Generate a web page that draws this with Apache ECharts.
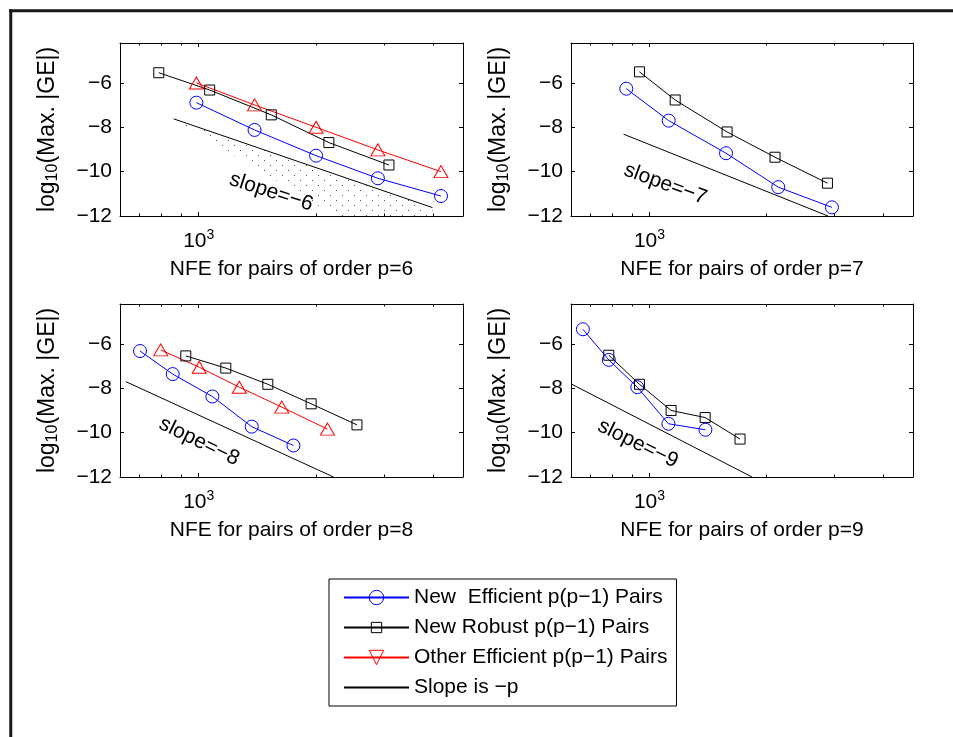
<!DOCTYPE html>
<html>
<head>
<meta charset="utf-8">
<script src="https://cdn.jsdelivr.net/npm/echarts@6/dist/echarts.min.js"></script>
<style>
html,body{margin:0;padding:0;background:#fff;}
#c{width:953px;height:737px;}
</style>
</head>
<body>
<div id="c"></div>
<script>
// ---------------- data ----------------
const NAME_EFF = 'New  Efficient p(p\u22121) Pairs';
const NAME_ROB = 'New Robust p(p\u22121) Pairs';
const NAME_OTH = 'Other Efficient p(p\u22121) Pairs';
const NAME_SLOPE = 'Slope is \u2212p';

const orders = [6, 7, 8, 9];
const xTitles = ['NFE for pairs of order p=6', 'NFE for pairs of order p=7', 'NFE for pairs of order p=8', 'NFE for pairs of order p=9'];
const yTicks = [-12, -10, -8, -6];
const xMajorTicks = [1000];
const xMinorTicks = [700, 800, 900, 2000, 3000, 4000];

// p = 6
const nfe6Eff = [986, 1392, 2005, 2892, 4204];
const err6Eff = [-6.89, -8.12, -9.28, -10.30, -11.10];
const nfe6Rob = [789, 1067, 1537, 2163, 3088];
const err6Rob = [-5.54, -6.32, -7.44, -8.69, -9.70];
const nfe6Oth = [986, 1392, 2005, 2892, 4204];
const err6Oth = [-6.00, -6.99, -8.00, -9.02, -10.00];
const nfe6Slope = [862, 3996];
const err6Slope = [-7.62, -11.62];
const nfe6Hatch = [862, 3996, 3996, 2250];
const err6Hatch = [-7.62, -11.62, -12, -12];

// p = 7
const nfe7Eff = [871, 1121, 1576, 2150, 2958];
const err7Eff = [-6.26, -7.70, -9.17, -10.70, -11.61];
const nfe7Rob = [942, 1165, 1586, 2109, 2880];
const err7Rob = [-5.50, -6.77, -8.21, -9.35, -10.52];
const nfe7Slope = [857, 2890];
const err7Slope = [-8.31, -12];

// p = 8
const nfe8Eff = [706, 857, 1084, 1369, 1753];
const err8Eff = [-6.32, -7.36, -8.37, -9.73, -10.58];
const nfe8Rob = [926, 1174, 1506, 1947, 2555];
const err8Rob = [-6.54, -7.09, -7.82, -8.70, -9.65];
const nfe8Oth = [798, 1003, 1272, 1636, 2145];
const err8Oth = [-6.27, -7.05, -7.95, -8.85, -9.84];
const nfe8Slope = [649, 2223];
const err8Slope = [-7.70, -12];

// p = 9
const nfe9Eff = [673, 785, 930, 1119, 1394];
const err9Eff = [-5.34, -6.72, -7.95, -9.60, -9.87];
const nfe9Rob = [785, 942, 1137, 1392, 1713];
const err9Rob = [-6.51, -7.82, -9.00, -9.32, -10.29];
const nfe9Slope = [627, 1840];
const err9Slope = [-7.80, -12];

// slope annotations
const slopeLabels = ['slope=\u22126', 'slope=\u22127', 'slope=\u22128', 'slope=\u22129'];
const slopeLabelNfe = [1537, 1098, 1002, 933];
const slopeLabelErr = [-10.92, -10.56, -10.40, -10.50];

// ---------------- styles / layout ----------------
const FONT = "'Liberation Sans', Arial, Helvetica, sans-serif";
const FS = 21;
const FS_YTITLE = 23;
const X_MIN = 627, X_MAX = 4790;
const Y_MIN = -12, Y_MAX = -4.2;
const gridsLayout = [
  {left: 120, top: 43, width: 343, height: 173},
  {left: 571, top: 43, width: 342, height: 173},
  {left: 120, top: 304, width: 343, height: 173},
  {left: 571, top: 304, width: 342, height: 173}
];
const slopeRot = [-18, -20, -26, -26];
const BLUE = '#0000ff', RED = '#ff0000', BLACK = '#000000';
const SQUARE = 'path://M0,0M14,14M2,2L12,2L12,12L2,12Z';

function zip(a, b) { return a.map((v, i) => [v, b[i]]); }

const panels = [
  {eff: [nfe6Eff, err6Eff], rob: [nfe6Rob, err6Rob], oth: [nfe6Oth, err6Oth], slope: [nfe6Slope, err6Slope], hatch: [nfe6Hatch, err6Hatch]},
  {eff: [nfe7Eff, err7Eff], rob: [nfe7Rob, err7Rob], slope: [nfe7Slope, err7Slope]},
  {eff: [nfe8Eff, err8Eff], rob: [nfe8Rob, err8Rob], oth: [nfe8Oth, err8Oth], slope: [nfe8Slope, err8Slope]},
  {eff: [nfe9Eff, err9Eff], rob: [nfe9Rob, err9Rob], slope: [nfe9Slope, err9Slope]}
];

// sparse dotted hatch pattern
const hatchCanvas = document.createElement('canvas');
hatchCanvas.width = 12; hatchCanvas.height = 10;
(function () {
  const ctx = hatchCanvas.getContext('2d');
  ctx.fillStyle = '#555';
  ctx.fillRect(0, 0, 1, 1);
  ctx.fillRect(6, 5, 1, 1);
})();

const grid = [], xAxis = [], yAxis = [], series = [];

const axisLineStyle = {show: true, onZero: false, lineStyle: {color: BLACK, width: 1}};

gridsLayout.forEach((gl, g) => {
  grid.push(Object.assign({containLabel: false}, gl));
  // bottom x
  xAxis.push({
    type: 'log', logBase: 10, gridIndex: g, min: X_MIN, max: X_MAX, position: 'bottom',
    name: xTitles[g], nameLocation: 'middle', nameGap: 43,
    nameTextStyle: {fontSize: FS, color: BLACK, fontFamily: FONT},
    axisLine: axisLineStyle,
    axisTick: {show: true, inside: true, length: 4, lineStyle: {color: BLACK, width: 1}},
    minorTick: {show: false},
    splitLine: {show: false},
    axisLabel: {
      show: true, margin: 12, color: BLACK, fontFamily: FONT, fontSize: FS,
      showMinLabel: false, showMaxLabel: false,
      formatter: v => (xMajorTicks.indexOf(Math.round(v)) >= 0 ? '{b|10}{s|3}' : ''),
      rich: {
        b: {fontSize: FS, lineHeight: 26, fontFamily: FONT, color: BLACK},
        s: {fontSize: 14, lineHeight: 14, verticalAlign: 'top', fontFamily: FONT, color: BLACK}
      }
    }
  });
  // top x (mirror)
  xAxis.push({
    type: 'log', logBase: 10, gridIndex: g, min: X_MIN, max: X_MAX, position: 'top',
    axisLine: axisLineStyle,
    axisTick: {show: true, inside: true, length: 4, lineStyle: {color: BLACK, width: 1}},
    axisLabel: {show: false}, splitLine: {show: false}
  });
  // left y
  yAxis.push({
    type: 'value', gridIndex: g, min: Y_MIN, max: Y_MAX, interval: 2, position: 'left',
    name: 'log{sub|10}(Max. |GE|)', nameLocation: 'middle', nameRotate: 90, nameGap: 59,
    nameTextStyle: {
      fontSize: FS_YTITLE, color: BLACK, fontFamily: FONT, lineHeight: 27,
      rich: {sub: {fontSize: 16, lineHeight: 16, verticalAlign: 'bottom', fontFamily: FONT, color: BLACK}}
    },
    axisLine: axisLineStyle,
    axisTick: {show: true, inside: true, length: 4, lineStyle: {color: BLACK, width: 1}},
    splitLine: {show: false},
    axisLabel: {
      margin: 8, color: BLACK, fontFamily: FONT, fontSize: FS, showMaxLabel: false,
      formatter: v => (yTicks.indexOf(v) >= 0 ? String(v).replace('-', '\u2212') : '')
    }
  });
  // right y (mirror)
  yAxis.push({
    type: 'value', gridIndex: g, min: Y_MIN, max: Y_MAX, interval: 2, position: 'right',
    axisLine: axisLineStyle,
    axisTick: {show: true, inside: true, length: 4, lineStyle: {color: BLACK, width: 1}},
    axisLabel: {show: false}, splitLine: {show: false}
  });

  const xi = 2 * g, yi = 2 * g;
  const P = panels[g];

  // minor ticks of the log axis (top and bottom, inside)
  series.push({
    type: 'custom', name: 'minorTicks' + g, xAxisIndex: xi, yAxisIndex: yi, silent: true, z: 1,
    data: xMinorTicks.map(v => [v, Y_MIN]),
    renderItem: (params, api) => {
      const p = api.coord([api.value(0), api.value(1)]);
      const cs = params.coordSys;
      const x = Math.round(p[0]) + 0.5;
      const yb = cs.y + cs.height, yt = cs.y;
      return {
        type: 'group',
        children: [
          {type: 'line', shape: {x1: x, y1: yb, x2: x, y2: yb - 2.5}, style: {stroke: '#000', lineWidth: 1}},
          {type: 'line', shape: {x1: x, y1: yt, x2: x, y2: yt + 2.5}, style: {stroke: '#000', lineWidth: 1}}
        ]
      };
    }
  });

  if (P.hatch) {
    series.push({
      type: 'custom', name: 'hatch' + g, xAxisIndex: xi, yAxisIndex: yi, silent: true, z: 1,
      data: zip(P.hatch[0], P.hatch[1]),
      renderItem: (params, api) => {
        if (params.dataIndex !== 0) return null;
        const pts = P.hatch[0].map((x, i) => api.coord([x, P.hatch[1][i]]));
        return {type: 'polygon', shape: {points: pts}, style: {fill: {image: hatchCanvas, repeat: 'repeat'}, stroke: null}};
      }
    });
  }

  // slope reference line
  series.push({
    type: 'line', name: NAME_SLOPE, xAxisIndex: xi, yAxisIndex: yi,
    data: zip(P.slope[0], P.slope[1]), symbol: 'none',
    itemStyle: {color: BLACK},
    lineStyle: {color: BLACK, width: 1}, z: 2
  });

  series.push({
    type: 'line', name: NAME_EFF, xAxisIndex: xi, yAxisIndex: yi,
    data: zip(P.eff[0], P.eff[1]), symbol: 'circle', symbolSize: 13,
    itemStyle: {color: 'transparent', borderColor: BLUE, borderWidth: 1},
    lineStyle: {color: BLUE, width: 1}, z: 3
  });
  series.push({
    type: 'line', name: NAME_ROB, xAxisIndex: xi, yAxisIndex: yi,
    data: zip(P.rob[0], P.rob[1]), symbol: SQUARE, symbolSize: 14,
    itemStyle: {color: 'transparent', borderColor: BLACK, borderWidth: 1},
    lineStyle: {color: BLACK, width: 1}, z: 3
  });
  if (P.oth) {
    series.push({
      type: 'line', name: NAME_OTH, xAxisIndex: xi, yAxisIndex: yi,
      data: zip(P.oth[0], P.oth[1]), symbol: 'triangle', symbolSize: [14, 12],
      itemStyle: {color: 'transparent', borderColor: RED, borderWidth: 1},
      lineStyle: {color: RED, width: 1}, z: 3
    });
  }

  // slope annotation text
  series.push({
    type: 'custom', name: 'slopeLabel' + g, xAxisIndex: xi, yAxisIndex: yi, silent: true, z: 4,
    data: [[slopeLabelNfe[g], slopeLabelErr[g]]],
    renderItem: (params, api) => {
      const p = api.coord([api.value(0), api.value(1)]);
      return {
        type: 'text', x: p[0], y: p[1], rotation: slopeRot[g] * Math.PI / 180,
        style: {text: slopeLabels[g], fontSize: FS, fontFamily: FONT, fill: BLACK, align: 'center', verticalAlign: 'middle'}
      };
    }
  });
});

const option = {
  animation: false,
  backgroundColor: '#fff',
  textStyle: {fontFamily: FONT},
  grid, xAxis, yAxis, series,
  legend: {
    orient: 'vertical', left: 329, top: 579,
    padding: [8, 9, 8, 14], itemGap: 9, itemWidth: 65, itemHeight: 18,
    borderColor: BLACK, borderWidth: 1, backgroundColor: '#fff',
    selectedMode: false,
    textStyle: {fontSize: FS, color: BLACK, fontFamily: FONT},
    itemStyle: {borderWidth: 1},
    data: [
      {name: NAME_EFF},
      {name: NAME_ROB},
      {name: NAME_OTH, symbolRotate: 180},
      {name: NAME_SLOPE, itemStyle: {opacity: 0}}
    ]
  },
  graphic: [
    {type: 'line', shape: {x1: 9.25, y1: 10.75, x2: 953, y2: 10.75}, style: {stroke: '#1a1a1a', lineWidth: 3}, silent: true},
    {type: 'line', shape: {x1: 10.75, y1: 9.25, x2: 10.75, y2: 737}, style: {stroke: '#1a1a1a', lineWidth: 3}, silent: true}
  ]
};

const chart = echarts.init(document.getElementById('c'), null, {renderer: 'canvas'});
chart.setOption(option);
</script>
</body>
</html>
